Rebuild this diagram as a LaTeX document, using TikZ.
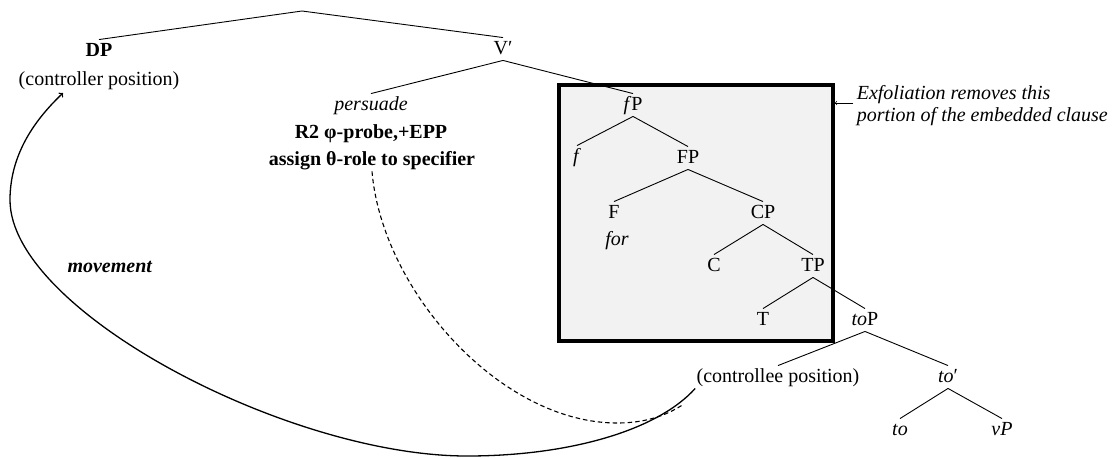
\documentclass[tikz,border=0pt]{standalone}
\usepackage{fontspec}
\setmainfont{Liberation Serif}
\tikzset{lab/.style={inner xsep=1pt,inner ysep=1pt,text height=15pt,text depth=5pt},
  exbox/.style={draw,line width=3.5pt,fill=black!5,minimum width=274pt,minimum height=256pt}}

\begin{document}
\begin{tikzpicture}[x=1pt,y=-1pt,font=\fontsize{20}{22}\selectfont,line width=0.9pt]
\useasboundingbox (0,0) rectangle (1115,458);
\node[exbox](box) at (696,213){};
\coordinate(root) at (302,11);
\node[lab](dp) at (99,51){\textbf{DP}};
\node[lab](ctrl) at (99,80){(controller position)};
\node[lab](vbar) at (503,49){V\char"2032};
\node[lab](pers) at (371,105){\textit{persuade}};
\node[lab](rtwo) at (371,133){\textbf{R2 φ-probe,+EPP}};
\node[lab](asg) at (372,160){\textbf{assign θ-role to specifier}};
\node[lab](fp) at (633,105){\textit{f}P};
\node[lab](f) at (577,157){\textit{f}};
\node[lab](fpp) at (688,158){FP};
\node[lab](ff) at (614,213){F};
\node[lab](forw) at (617,240){\textit{for}};
\node[lab](cp) at (763,213){CP};
\node[lab](c) at (714,266){C};
\node[lab](tp) at (813,266){TP};
\node[lab](t) at (763,320){T};
\node[lab](toph) at (865,320){\textit{to}P};
\node[lab](cee) at (778,377){(controllee position)};
\node[lab](tobar) at (948,377){\textit{to}\char"2032};
\node[lab](to) at (900,430){\textit{to}};
\node[lab](vp) at (1002,430){\textit{vP}};
\node[lab](mv) at (110,267){\textbf{\textit{movement}}};
\node[align=left,anchor=west](exf) at (853,106){\textit{Exfoliation removes this}\\\textit{portion of the embedded clause}};
% tree branches
\draw(root)--(dp.north) (root)--(vbar.north);
\draw(vbar.south)--(pers.north) (vbar.south)--(fp.north);
\draw(fp.south)--(f.north) (fp.south)--(fpp.north);
\draw(fpp.south)--(ff.north) (fpp.south)--(cp.north);
\draw(cp.south)--(c.north) (cp.south)--(tp.north);
\draw(tp.south)--(t.north) (tp.south)--(toph.north);
\draw(toph.south)--(cee.north) (toph.south)--(tobar.north);
\draw(tobar.south)--(to.north) (tobar.south)--(vp.north);
% movement and agreement
\coordinate(land) at (63,93);
\coordinate(join) at (684,404);
\draw[->,line width=1.3pt](cee.south west) .. controls (658,430) and (570,456) .. (467,456)
  .. controls (287,456) and (10,310) .. (10,200) .. controls (10,150) and (40,115) .. (land);
\draw[dash pattern=on 4.5pt off 3pt,line width=1.1pt](asg.south) .. controls (382,290) and (500,423) .. (617,423)
  .. controls (650,423) and (670,413) .. (join);
\draw[->,line width=0.7pt](exf.west |- 0,103)--(box.east |- 0,103);
\end{tikzpicture}
\end{document}
